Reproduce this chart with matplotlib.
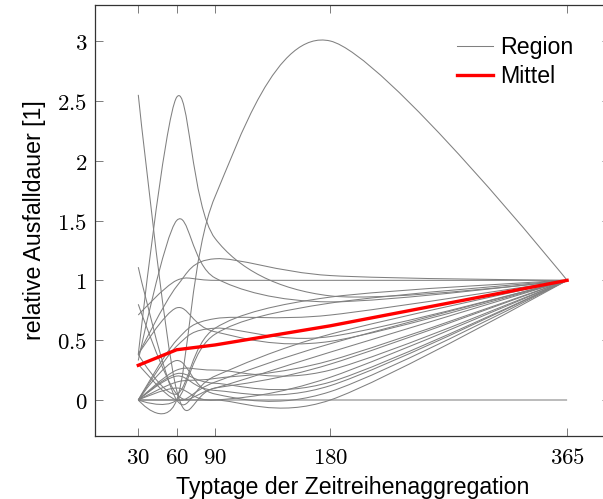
import numpy as np
import matplotlib
matplotlib.use("Agg")
import matplotlib.pyplot as plt
from matplotlib.path import Path
from matplotlib.patches import PathPatch
from matplotlib.lines import Line2D

plt.rcParams['font.family'] = ['Liberation Sans', 'DejaVu Sans']
plt.rcParams['mathtext.fontset'] = 'cm'

# aggregation steps (typical days)
days = [30, 60, 90, 180, 365]

# relative outage duration per region
r01 = [2.55, 0.08, 0.10, 0.30, 1.0]
r02 = [0.38, 2.53, 1.35, 0.87, 1.0]
r03 = [0.00, 0.00, 1.70, 3.00, 1.0]
r04 = [0.38, 0.95, 1.18, 1.04, 1.0]
r05 = [0.71, 1.00, 1.00, 1.00, 1.0]
r06 = [1.11, 0.00, 0.20, 0.55, 1.0]
r07 = [0.80, 0.05, 0.10, 0.40, 1.0]
r08 = [0.33, 1.50, 1.02, 0.82, 1.0]
r09 = [0.38, 0.77, 0.57, 0.49, 1.0]
r10 = [0.00, 0.50, 0.68, 0.71, 1.0]
r11 = [0.00, 0.00, 0.00, 0.00, 0.0]
r12 = [0.00, 0.00, 0.00, 0.00, 1.0]
r13 = [0.00, 0.33, 0.05, 0.07, 1.0]
r14 = [0.00, 0.22, 0.14, 0.15, 1.0]
r15 = [0.00, 0.10, 0.00, 0.19, 1.0]
r16 = [0.00, 0.25, 0.25, 0.25, 1.0]
r17 = [0.00, 0.15, 0.18, 0.33, 1.0]
r18 = [0.00, 0.00, 0.55, 0.81, 1.0]
r19 = [0.38, 0.05, 0.60, 0.86, 1.0]
r20 = [0.00, 0.45, 0.60, 0.53, 1.0]
r21 = [0.00, 0.20, 0.08, 0.12, 1.0]
r22 = [0.30, 0.00, 0.15, 0.47, 1.0]
regions = [r01, r02, r03, r04, r05, r06, r07, r08, r09, r10, r11,
           r12, r13, r14, r15, r16, r17, r18, r19, r20, r21, r22]

# mean over regions
mittel = [0.29, 0.42, 0.46, 0.62, 1.0]


def smooth_path(x, y, tension=0.55):
    # same curve construction as tikz "plot smooth"
    f = 0.2775 * tension
    p = np.column_stack([x, y]).astype(float)
    n = len(p)
    verts = [p[0]]
    codes = [Path.MOVETO]
    for i in range(n - 1):
        c1 = p[i] if i == 0 else p[i] + f * (p[i + 1] - p[i - 1])
        c2 = p[i + 1] if i + 1 == n - 1 else p[i + 1] - f * (p[i + 2] - p[i])
        verts += [c1, c2, p[i + 1]]
        codes += [Path.CURVE4] * 3
    return Path(verts, codes)


fig = plt.figure(figsize=(6.03, 4.99), dpi=100)
ax = fig.add_axes([95.4 / 603, 63.1 / 499, 514.6 / 603, 430.8 / 499])

for r in regions:
    ax.add_patch(PathPatch(smooth_path(days, r), fill=False,
                           edgecolor='#808080', lw=0.75))

ax.plot(days, mittel, color='#ff0000', lw=2.4, solid_joinstyle='miter')

ax.set_xlim(-3.5, 398.5)
ax.set_ylim(-0.3, 3.3)
ax.set_xticks(days)
ax.set_xticklabels([f'${d}$' for d in days])
yt = [0, 0.5, 1, 1.5, 2, 2.5, 3]
ax.set_yticks(yt)
ax.set_yticklabels([f'${v:g}$' for v in yt])
ax.tick_params(direction='in', top=True, right=True, length=6,
               width=0.6, color='#666666', labelsize=16.5)
ax.tick_params(axis='x', pad=7)
ax.tick_params(axis='y', pad=6)
for s in ax.spines.values():
    s.set_linewidth(0.9)
    s.set_color('#333333')

ax.set_xlabel('Typtage der Zeitreihenaggregation', fontsize=16.7, labelpad=5)
ax.set_ylabel('relative Ausfalldauer [1]', fontsize=16.7, labelpad=8)

handles = [Line2D([], [], color='#808080', lw=0.75),
           Line2D([], [], color='#ff0000', lw=2.4)]
ax.legend(handles, ['Region', 'Mittel'], loc='upper left',
          bbox_to_anchor=(457 / 603, 1 - 36 / 499),
          bbox_transform=fig.transFigure, frameon=False, fontsize=16.7,
          handlelength=1.55, handletextpad=0.3, labelspacing=0.27,
          borderpad=0, borderaxespad=0)

fig.savefig('out.png', dpi=100)
